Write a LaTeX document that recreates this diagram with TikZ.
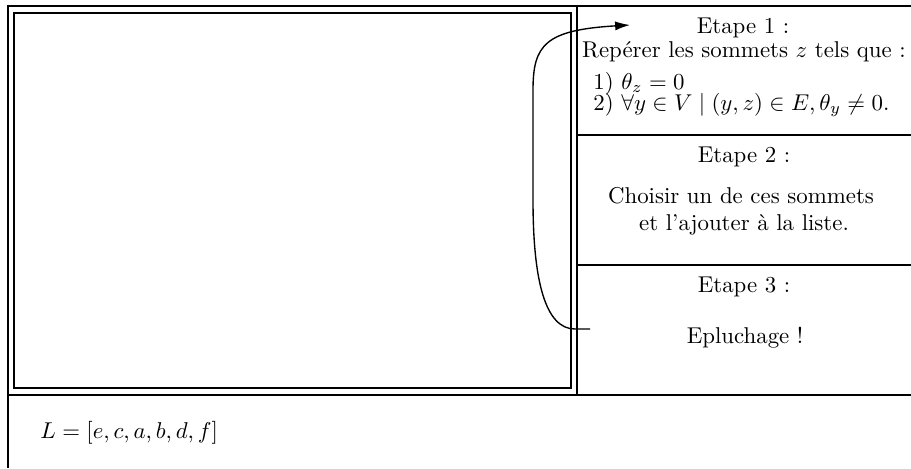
\documentclass[tikz,border=0pt]{standalone}
\usetikzlibrary{arrows.meta}
\begin{document}
\begin{tikzpicture}[x=0.4375pt,y=-0.4375pt,
  frameline/.style={line width=0.9pt},
  innerline/.style={line width=0.65pt},
  sepline/.style={line width=0.7pt},
  heavyline/.style={line width=1pt},
  txt/.style={inner sep=0pt,anchor=base},
  txtl/.style={inner sep=0pt,anchor=base west},
  conn/.style={line width=0.6pt,-{Latex[length=6.5pt,width=4pt]}}]
\useasboundingbox (0,0) rectangle (911,468);
% frames
\draw[frameline] (911,6) -- (8,6) -- (8,468);
\draw[heavyline] (8,395) -- (911,395);
\draw[innerline] (14,13) rectangle (571,388);
\draw[innerline] (577,6) -- (577,395);
\draw[sepline] (577,135) -- (911,135);
\draw[sepline] (577,265) -- (911,265);
% texts
\node[txt] (e1) at (743,33) {Etape 1 :};
\node[txt] (e1a) at (744,57) {Rep\'erer les sommets $z$ tels que :};
\node[txtl] (e1b) at (593,89) {1) $\theta_z=0$};
\node[txtl] (e1c) at (593,110) {2) $\forall y\in V\mid(y,z)\in E,\theta_y\neq0.$};
\node[txt] (e2) at (744,162) {Etape 2 :};
\node[txt] (e2a) at (741,203) {Choisir un de ces sommets};
\node[txt] (e2b) at (744,230) {et l'ajouter \`a la liste.};
\node[txt] (e3) at (744,292) {Etape 3 :};
\node[txt] (e3a) at (745,343) {Epluchage !};
\node[txtl] (L) at (40,438) {$L=[e,c,a,b,d,f]$};
% arrow
\coordinate (as) at (590,329);
\coordinate (at) at (630,25);
\draw[conn] (as) -- (575,329) .. controls (545,329) and (533,280) .. (533,200)
  -- (533,90) .. controls (533,45) and (545,30) .. (at);
\end{tikzpicture}
\end{document}
